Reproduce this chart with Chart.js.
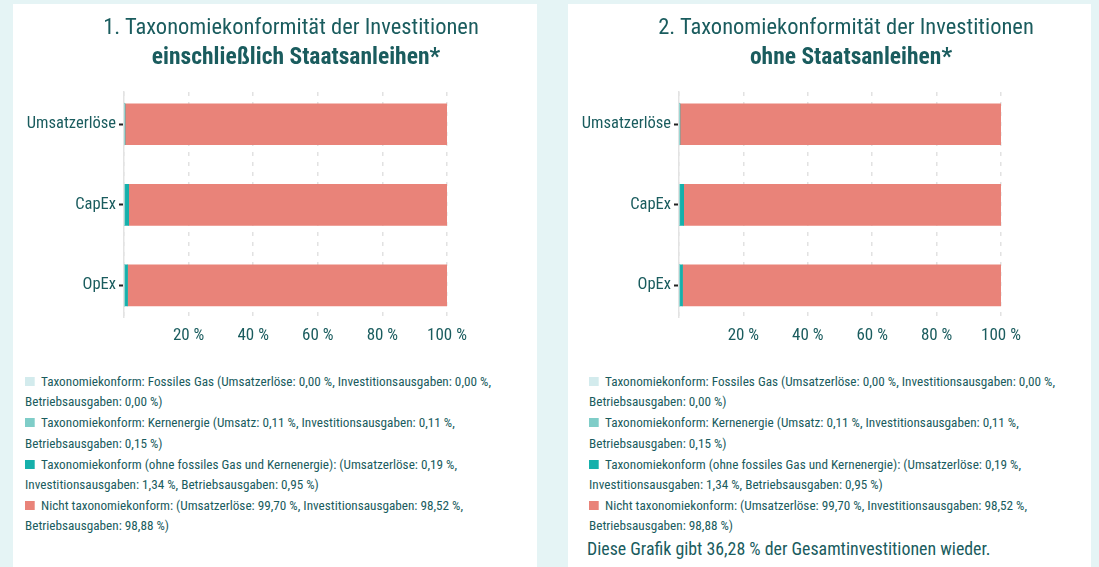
<!DOCTYPE html>
<html><head><meta charset="utf-8">
<script src="https://cdn.jsdelivr.net/npm/chart.js@4.4.1/dist/chart.umd.min.js"></script>
<style>
html,body{margin:0;padding:0;background:#e5f4f5;width:1099px;height:567px;overflow:hidden;font-family:'Roboto Condensed','Roboto',sans-serif;color:#1a5c5e}
.card{position:absolute;top:4px;height:600px;background:#fff}
.card canvas{position:absolute;left:0;top:0}
.t{position:absolute;left:0;width:556px;text-align:center;white-space:nowrap}
.t1{top:8px;font-size:22.5px;line-height:28px;font-weight:400}
.t2{top:38px;left:5px;font-size:23.5px;line-height:28px;font-weight:700}
.legend{position:absolute;top:367px;line-height:20.3px;transform-origin:0 0}
.item{margin-bottom:0.8px;white-space:nowrap}
.sw{display:inline-block;height:9px}
.note{position:absolute;left:19px;top:532px;line-height:26px;white-space:nowrap}
</style></head>
<body>
<div class="card" id="c1" style="left:13px;width:524px">
  <canvas id="ch1" width="524" height="350"></canvas>
  <div class="t t1" id="t1a"></div><div class="t t2" id="t1b"></div>
  <div class="legend" id="lg1" style="left:12px"></div>
</div>
<div class="card" id="c2" style="left:568px;width:523px">
  <canvas id="ch2" width="523" height="350"></canvas>
  <div class="t t1" id="t2a"></div><div class="t t2" id="t2b"></div>
  <div class="legend" id="lg2" style="left:21px"></div>
  <div class="note" id="note"></div>
</div>
<script>
const categories = ['Umsatzerlöse', 'CapEx', 'OpEx'];
const fossilGas = [0.00, 0.00, 0.00];
const nuclear = [0.11, 0.11, 0.15];
const aligned = [0.19, 1.34, 0.95];
const notAligned = [99.70, 98.52, 98.88];
const xTicks = [0, 20, 40, 60, 80, 100];
const seriesColors = ['#d3ebed', '#7fcdc8', '#16b0ab', '#e98379'];
const legendLines = [
  ['Taxonomiekonform: Fossiles Gas (Umsatzerlöse: 0,00 %, Investitionsausgaben: 0,00 %,', 'Betriebsausgaben: 0,00 %)'],
  ['Taxonomiekonform: Kernenergie (Umsatz: 0,11 %, Investitionsausgaben: 0,11 %,', 'Betriebsausgaben: 0,15 %)'],
  ['Taxonomiekonform (ohne fossiles Gas und Kernenergie): (Umsatzerlöse: 0,19 %,', 'Investitionsausgaben: 1,34 %, Betriebsausgaben: 0,95 %)'],
  ['Nicht taxonomiekonform: (Umsatzerlöse: 99,70 %, Investitionsausgaben: 98,52 %,', 'Betriebsausgaben: 98,88 %)']
];
const titles = [
  ['1. Taxonomiekonformität der Investitionen', 'einschließlich Staatsanleihen*'],
  ['2. Taxonomiekonformität der Investitionen', 'ohne Staatsanleihen*']
];
const noteText = 'Diese Grafik gibt 36,28 % der Gesamtinvestitionen wieder.';

const FONT = "'Roboto Condensed','Roboto',sans-serif";
const TXT = '#1a5c5e';
const seriesData = [fossilGas, nuclear, aligned, notAligned];

// size text to the reference's measured widths
const mc = document.createElement('canvas').getContext('2d');
function textWidth(text, size) {
  mc.font = 'normal ' + size + 'px ' + FONT;
  return mc.measureText(text).width;
}
const LEGEND_PX = 13.6;
const legendScale = 450 / textWidth(legendLines[0][0], LEGEND_PX);
const noteSize = 20 * 404 / textWidth(noteText, 20);

function makeChart(id) {
  const datasets = seriesData.map((arr, k) => ({
    label: legendLines[k].join(' '),
    data: arr.map((v, i) => ({x: v, y: i})),
    backgroundColor: seriesColors[k],
    borderWidth: 0,
    barThickness: 41,
    grouped: false
  }));
  new Chart(document.getElementById(id), {
    type: 'bar',
    data: {datasets},
    options: {
      indexAxis: 'y',
      responsive: false,
      animation: false,
      layout: {padding: {left: 0, right: 90, top: 88, bottom: 0}},
      plugins: {legend: {display: false}, tooltip: {enabled: false}},
      scales: {
        x: {
          type: 'linear', min: 0, max: 100, stacked: true,
          afterBuildTicks: (s) => { s.ticks = xTicks.map(v => ({value: v})); },
          ticks: {callback: (v) => v === 0 ? '' : v + ' %', color: TXT, padding: 8,
            font: {family: FONT, size: 17}},
          grid: {color: '#e2e2e2', drawTicks: false, lineWidth: 1.5},
          border: {display: false, dash: [4, 6]}
        },
        y: {
          type: 'linear', min: -0.4, max: 2.4, reverse: true, offset: false,
          afterBuildTicks: (s) => { s.ticks = categories.map((c, i) => ({value: i})); },
          afterFit: (s) => { s.width = 111; },
          ticks: {callback: (v) => categories[v], color: TXT, padding: 3,
            font: {family: FONT, size: 16.5}},
          grid: {offset: false, drawOnChartArea: false, drawTicks: true, tickLength: 5, tickColor: '#222', tickWidth: 2},
          border: {display: true, color: '#e3e3e3', width: 1.5}
        }
      }
    }
  });
}
function makeLegend(id) {
  const el = document.getElementById(id);
  el.style.fontSize = LEGEND_PX + 'px';
  el.style.transform = 'scaleX(' + legendScale + ')';
  legendLines.forEach((lines, k) => {
    const d = document.createElement('div');
    d.className = 'item';
    const sw = document.createElement('span');
    sw.className = 'sw';
    sw.style.width = (10 / legendScale) + 'px';
    sw.style.marginRight = (6 / legendScale) + 'px';
    sw.style.background = seriesColors[k];
    d.appendChild(sw);
    d.appendChild(document.createTextNode(lines[0]));
    d.appendChild(document.createElement('br'));
    d.appendChild(document.createTextNode(lines[1]));
    el.appendChild(d);
  });
}
makeChart('ch1');
makeChart('ch2');
document.getElementById('t1a').textContent = titles[0][0];
document.getElementById('t1b').textContent = titles[0][1];
document.getElementById('t2a').textContent = titles[1][0];
document.getElementById('t2b').textContent = titles[1][1];
makeLegend('lg1');
makeLegend('lg2');
const note = document.getElementById('note');
note.style.fontSize = noteSize + 'px';
note.textContent = noteText;
</script>
</body></html>
